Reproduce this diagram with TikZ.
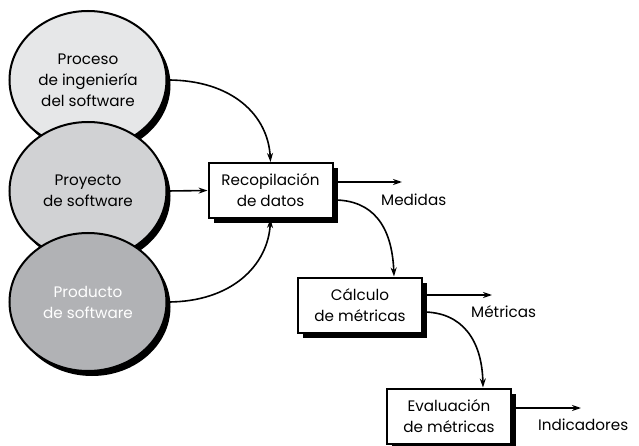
\documentclass[tikz,border=0pt]{standalone}
\usepackage{fontspec}
\setmainfont{Poppins}
\usetikzlibrary{shapes.geometric,shadows,arrows.meta}
\begin{document}
\begin{tikzpicture}[x=1pt,y=-1pt,
  src/.style={ellipse,draw=black,line width=2pt,minimum width=157pt,minimum height=138pt,inner sep=0pt,align=center,font=\fontsize{15.2}{21}\selectfont,
    drop shadow={shadow xshift=4pt,shadow yshift=-5pt,fill=black,opacity=1}},
  proc/.style={rectangle,draw=black,line width=2pt,fill=white,minimum width=124pt,minimum height=55pt,inner sep=0pt,align=center,font=\fontsize{15.2}{21}\selectfont,
    drop shadow={shadow xshift=5pt,shadow yshift=-5pt,fill=black,opacity=1}},
  lbl/.style={font=\fontsize{15.2}{21}\selectfont,inner sep=0pt},
  arr/.style={line width=1.6pt,-{Stealth[length=9pt,width=6pt]}}]
\useasboundingbox (0,0) rectangle (639,446);
\definecolor{c1}{HTML}{E6E7E8}
\definecolor{c2}{HTML}{D1D2D4}
\definecolor{c3}{HTML}{B1B2B5}
\node[src,fill=c1] (e1) at (88,80) {Proceso\\de ingeniería\\del software};
\node[src,fill=c2] (e2) at (88,191) {Proyecto\\de software};
\node[src,fill=c3,text=white] (e3) at (88,302) {Producto\\de software};
\node[proc] (r) at (270.5,190.5) {Recopilación\\de datos};
\node[proc] (c) at (360,305) {Cálculo\\de métricas};
\node[proc] (v) at (449,416) {Evaluación\\de métricas};
\node[lbl,anchor=west] (m1) at (381,200) {Medidas};
\node[lbl,anchor=west] (m2) at (471,312) {Métricas};
\node[lbl,anchor=west] (m3) at (538,425) {Indicadores};
\coordinate (t1) at (402,182);
\coordinate (t2) at (492,295);
\coordinate (t3) at (581,408);
\draw[arr] (r.east |- t1) -- (t1);
\draw[arr] (c.east |- t2) -- (t2);
\draw[arr] (v.east |- t3) -- (t3);
\draw[arr] (e1.east) .. controls (232,80) and (268,115) .. (r.north);
\draw[arr] (e2.east) -- (r.west);
\draw[arr] (e3.east) .. controls (232,302) and (268,265) .. (r.south);
\draw[arr] (334,200) .. controls (372,200) and (392,225) .. (c.north -| 394,0);
\draw[arr] (423,312) .. controls (462,312) and (482,340) .. (v.north -| 483,0);
\end{tikzpicture}
\end{document}
